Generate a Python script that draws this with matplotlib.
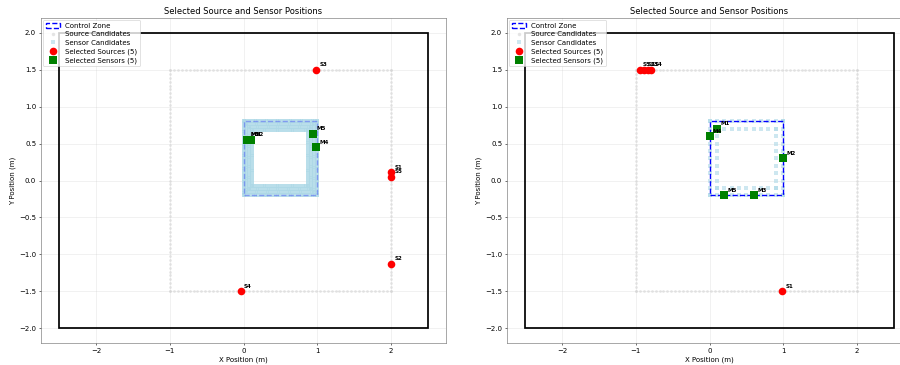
import numpy as np
import matplotlib
matplotlib.use('Agg')
import matplotlib.pyplot as plt
from matplotlib.patches import Rectangle
from matplotlib.lines import Line2D

# ---------------- data ----------------
room_x, room_y, room_w, room_h = -2.5, -2.0, 5.0, 4.0
zone_x, zone_y, zone_w, zone_h = 0.0, -0.2, 1.0, 1.0
src_x0, src_y0, src_x1, src_y1 = -1.0, -1.5, 2.0, 1.5
n_src_side = 57

left_src_labels = ['S1', 'S2', 'S3', 'S4', 'S5']
left_src_x = [2.0, 2.0, 0.98, -0.04, 2.0]
left_src_y = [0.11, -1.13, 1.5, -1.5, 0.05]

left_sen_labels = ['M1', 'M2', 'M3', 'M4', 'M5']
left_sen_x = [0.05, 0.10, 0.05, 0.98, 0.95]
left_sen_y = [0.55, 0.55, 0.55, 0.45, 0.63]

right_src_labels = ['S1', 'S2', 'S3', 'S4', 'S5']
right_src_x = [0.98, -0.89, -0.84, -0.79, -0.95]
right_src_y = [-1.5, 1.5, 1.5, 1.5, 1.5]

right_sen_labels = ['M1', 'M2', 'M3', 'M4', 'M5']
right_sen_x = [0.1, 1.0, 0.6, 0.0, 0.2]
right_sen_y = [0.7, 0.3, -0.2, 0.6, -0.2]

left_ring_insets = [0.0, 0.04, 0.08, 0.12]
left_ring_step = 0.025
right_ring_insets = [0.0, 0.1]
right_ring_step = 0.1

xticks = [-2, -1, 0, 1, 2]
yticks = [-2.0, -1.5, -1.0, -0.5, 0.0, 0.5, 1.0, 1.5, 2.0]
title = 'Selected Source and Sensor Positions'


def ring(x0, y0, x1, y1, n=None, step=None):
    if n is None:
        nx = int(round((x1 - x0) / step)) + 1
        ny = int(round((y1 - y0) / step)) + 1
    else:
        nx = ny = n
    xs = np.linspace(x0, x1, nx)
    ys = np.linspace(y0, y1, ny)
    px = np.concatenate([xs, xs, np.full(ny, x0), np.full(ny, x1)])
    py = np.concatenate([np.full(nx, y0), np.full(nx, y1), ys, ys])
    return px, py


fig = plt.figure(figsize=(18, 7.3), dpi=50)
ax1 = fig.add_axes([41 / 900, 22 / 365, 405 / 900, 325 / 365])
ax2 = fig.add_axes([507 / 900, 22 / 365, 405 / 900, 325 / 365])


def draw(ax, src_lab, sx, sy, sen_lab, mx, my, insets, step, cand_s, zone_alpha):
    for sp in ax.spines.values():
        sp.set_edgecolor('#666666')
    ax.add_patch(Rectangle((room_x, room_y), room_w, room_h, fill=False,
                           edgecolor='black', linewidth=2.5, zorder=2))
    ax.add_patch(Rectangle((zone_x, zone_y), zone_w, zone_h, fill=False,
                           edgecolor='blue', linestyle='--', linewidth=2,
                           alpha=zone_alpha, zorder=4))
    cx, cy = ring(src_x0, src_y0, src_x1, src_y1, n=n_src_side)
    ax.scatter(cx, cy, s=16, c='lightgray', alpha=0.55, marker='o',
               linewidths=0, zorder=3)
    qx, qy = [], []
    for d in insets:
        px, py = ring(zone_x + d, zone_y + d, zone_x + zone_w - d,
                      zone_y + zone_h - d, step=step)
        qx.append(px)
        qy.append(py)
    ax.scatter(np.concatenate(qx), np.concatenate(qy), s=cand_s, c='lightblue',
               alpha=0.6, marker='s', linewidths=0, zorder=3)
    ax.scatter(sx, sy, s=120, c='red', marker='o', linewidths=0, zorder=5)
    for lab, x, y in zip(src_lab, sx, sy):
        ax.annotate(lab, (x, y), xytext=(5, 5), textcoords='offset points',
                    fontsize=8, fontweight='bold', zorder=6)
    ax.scatter(mx, my, s=120, c='green', marker='s', linewidths=0, zorder=5)
    for lab, x, y in zip(sen_lab, mx, my):
        ax.annotate(lab, (x, y), xytext=(5, 5), textcoords='offset points',
                    fontsize=8, fontweight='bold', zorder=6)
    ax.set_xlim(-2.75, 2.75)
    ax.set_ylim(-2.2, 2.2)
    ax.set_xticks(xticks)
    ax.set_yticks(yticks)
    ax.grid(True, alpha=0.3)
    ax.set_xlabel('X Position (m)')
    ax.set_ylabel('Y Position (m)')
    ax.set_title(title, fontsize=12)
    handles = [
        Rectangle((0, 0), 1, 1, fill=False, edgecolor='blue', linestyle='--', linewidth=2),
        Line2D([], [], linestyle='none', marker='o', markersize=5,
               markerfacecolor='lightgray', markeredgewidth=0, alpha=0.6),
        Line2D([], [], linestyle='none', marker='s', markersize=5,
               markerfacecolor='lightblue', markeredgewidth=0, alpha=0.6),
        Line2D([], [], linestyle='none', marker='o', markersize=11,
               markerfacecolor='red', markeredgewidth=0),
        Line2D([], [], linestyle='none', marker='s', markersize=11,
               markerfacecolor='green', markeredgewidth=0),
    ]
    labels = ['Control Zone', 'Source Candidates', 'Sensor Candidates',
              'Selected Sources (%d)' % len(src_lab),
              'Selected Sensors (%d)' % len(sen_lab)]
    ax.legend(handles, labels, loc='upper left', fontsize=10,
              borderaxespad=0.3, labelspacing=0.35)


draw(ax1, left_src_labels, left_src_x, left_src_y, left_sen_labels,
     left_sen_x, left_sen_y, left_ring_insets, left_ring_step, 30, 0.3)
draw(ax2, right_src_labels, right_src_x, right_src_y, right_sen_labels,
     right_sen_x, right_sen_y, right_ring_insets, right_ring_step, 22, 1.0)

fig.savefig('out.png', dpi=50)
